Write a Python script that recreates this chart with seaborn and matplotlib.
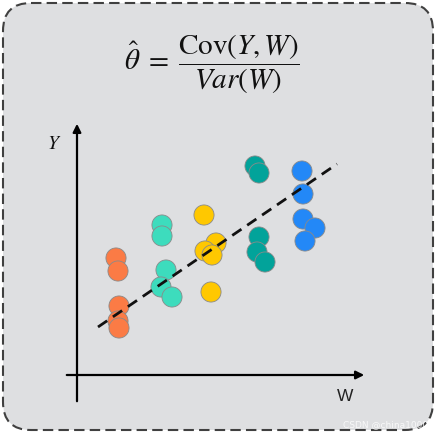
import pandas as pd
import seaborn as sns
import matplotlib.pyplot as plt
from matplotlib.patches import FancyBboxPatch

# point positions (pixel space, y grows downward)
groups = ["orange"] * 5 + ["turquoise"] * 5 + ["yellow"] * 5 + ["teal"] * 5 + ["blue"] * 5
w_vals = [116, 118, 119, 118, 119,
          162, 162, 166, 161, 172,
          204, 216, 205, 212, 211,
          255, 259, 259, 257, 265,
          302, 303, 303, 315, 305]
y_vals = [258, 271, 306, 321, 328,
          225, 236, 270, 287, 297,
          215, 243, 251, 255, 292,
          166, 173, 237, 252, 262,
          171, 194, 219, 228, 241]
line_w = [98, 337]
line_y = [327, 164]
palette = {"orange": "#fb7b45", "turquoise": "#3ddcbd", "yellow": "#ffc800",
           "teal": "#02a39a", "blue": "#2388f7"}

df = pd.DataFrame({"W": w_vals, "Y": y_vals, "group": groups})

sns.set_theme(style="white")
plt.rcParams["mathtext.fontset"] = "stix"

fig = plt.figure(figsize=(4.36, 4.36), dpi=100)
ax = fig.add_axes([0, 0, 1, 1])
ax.set_xlim(0, 436)
ax.set_ylim(436, 0)
ax.axis("off")

# rounded dashed frame
box = FancyBboxPatch((3, 3), 430, 427, boxstyle="round,pad=0,rounding_size=28",
                     facecolor="#dedfe1", edgecolor="#404040", lw=1.5,
                     linestyle=(0, (5, 2.5)), zorder=0)
ax.add_patch(box)

# axes arrows
ax.annotate("", xy=(77, 121), xytext=(77, 404),
            arrowprops=dict(arrowstyle="-|>", lw=1.6, color="black", mutation_scale=12))
ax.annotate("", xy=(367, 375), xytext=(64, 375),
            arrowprops=dict(arrowstyle="-|>", lw=1.6, color="black", mutation_scale=12))

sns.scatterplot(data=df, x="W", y="Y", hue="group", palette=palette, s=210,
                edgecolor="#8a8a8a", linewidth=0.6, legend=False, ax=ax, zorder=3)
ax.set_xlim(0, 436)
ax.set_ylim(436, 0)

ax.plot(line_w, line_y, color="#111111", lw=2, linestyle=(0, (4, 2.5)), zorder=4)

ax.text(212, 64, r"$\hat{\theta}\;=\;\dfrac{\mathrm{Cov}(Y,W)}{Var(W)}$",
        fontsize=21, ha="center", va="center", color="#111111")
ax.text(54, 143, r"$Y$", fontsize=14, ha="center", va="center", color="#111111")
ax.text(345, 396, "W", fontsize=12.5, ha="center", va="center", color="#222222",
        family="Liberation Sans")
ax.text(428, 425, "CSDN @china1000", fontsize=6.5, ha="right", va="center",
        color="white", alpha=0.8)

fig.savefig("out.png", dpi=100)
